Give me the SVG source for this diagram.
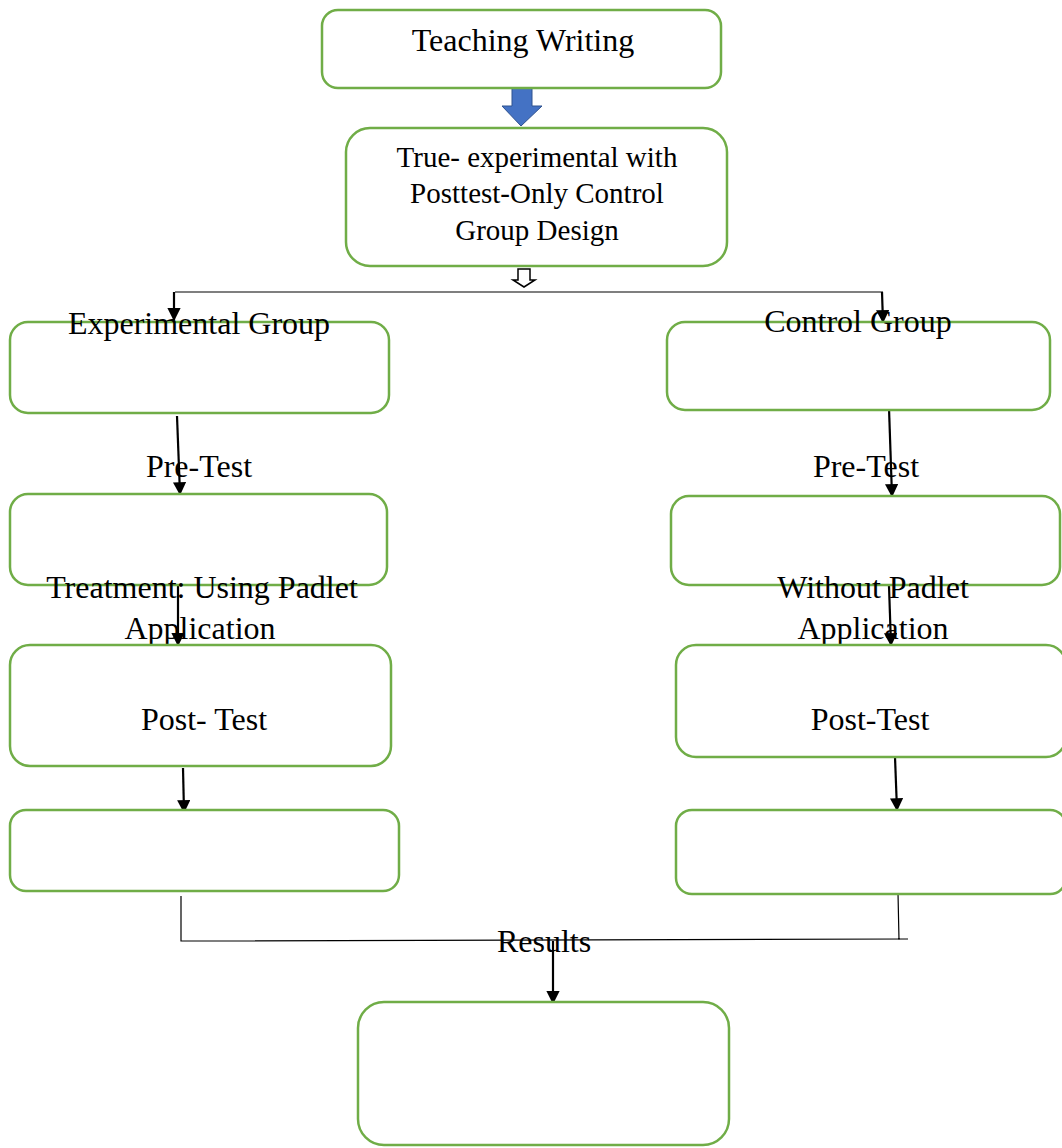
<svg xmlns="http://www.w3.org/2000/svg" width="1062" height="1148" viewBox="0 0 1062 1148">
<defs>
<style>
.box{fill:#fff;stroke:#70AD47;stroke-width:2.5}
.t{font-family:"Liberation Serif","Times New Roman",serif;font-size:32px;fill:#000;text-anchor:middle}
.t2{font-family:"Liberation Serif","Times New Roman",serif;font-size:29px;fill:#000;text-anchor:middle}
.ar{stroke:#000;stroke-width:2.2;fill:none;marker-end:url(#ah)}
.ln{stroke:#000;stroke-width:1.2;fill:none}
</style>
<marker id="ah" viewBox="0 0 10 10" refX="9" refY="5" markerWidth="7.5" markerHeight="6" markerUnits="strokeWidth" orient="auto">
<path d="M0,0 L10,5 L0,10 Z" fill="#000"/>
</marker>
</defs>
<rect width="1062" height="1148" fill="#fff"/>
<g id="connectors">
<path d="M512,88 H532 V106 H542 L521,126 L502,106 H512 Z" fill="#4472C4" stroke="#2F528F" stroke-width="1"/>
<path d="M518,269 H530 V280 H535 L524,287 L513,280 H518 Z" fill="#fff" stroke="#000" stroke-width="1.5"/>
<path class="ln" d="M175,292 H883"/>
<path class="ar" d="M174,292 V320"/>
<path class="ar" d="M882,292 L883,322"/>
<path class="ar" d="M177,416 L180,494"/>
<path class="ar" d="M889,408 L892,496"/>
<path class="ar" d="M178,580 L178,645"/>
<path class="ar" d="M889,586 L891,645"/>
<path class="ar" d="M183,768 L184,812"/>
<path class="ar" d="M895,757 L897,810"/>
<path class="ln" d="M181,896 V941 L908,939 M898,893 L899,940"/>
<path class="ar" d="M553,941 V1003"/>
</g>
<g id="n1"><rect class="box" x="322" y="10" width="399" height="78" rx="16"/><text class="t" x="523" y="51">Teaching Writing</text></g>
<g id="n2"><rect class="box" x="346" y="128" width="381" height="138" rx="24"/>
<text class="t2" x="537" y="167">True- experimental with</text>
<text class="t2" x="537" y="203">Posttest-Only Control</text>
<text class="t2" x="537" y="240">Group Design</text></g>
<g id="n3"><rect class="box" x="10" y="322" width="379" height="91" rx="18"/><text class="t" x="199" y="334">Experimental Group</text></g>
<g id="n4"><rect class="box" x="667" y="322" width="383" height="88" rx="18"/><text class="t" x="858" y="332">Control Group</text></g>
<g id="n5"><rect class="box" x="10" y="494" width="377" height="91" rx="18"/></g>
<g id="n6"><rect class="box" x="671" y="496" width="389" height="89" rx="18"/></g>
<g id="lbl"><text class="t" x="199" y="477">Pre-Test</text><text class="t" x="866" y="477">Pre-Test</text>
<text class="t" x="202" y="598">Treatment: Using Padlet</text><text class="t" x="200" y="639">Application</text>
<text class="t" x="873" y="598">Without Padlet</text><text class="t" x="873" y="639">Application</text>
<text class="t" x="544" y="952">Results</text></g>
<g id="n7"><rect class="box" x="10" y="645" width="381" height="121" rx="20"/><text class="t" x="204" y="730">Post- Test</text></g>
<g id="n8"><rect class="box" x="676" y="645" width="390" height="112" rx="20"/><text class="t" x="870" y="730">Post-Test</text></g>
<g id="n9"><rect class="box" x="10" y="810" width="389" height="81" rx="16"/></g>
<g id="n10"><rect class="box" x="676" y="810" width="390" height="84" rx="16"/></g>
<g id="n11"><rect class="box" x="358" y="1002" width="371" height="143" rx="26"/></g>
</svg>
